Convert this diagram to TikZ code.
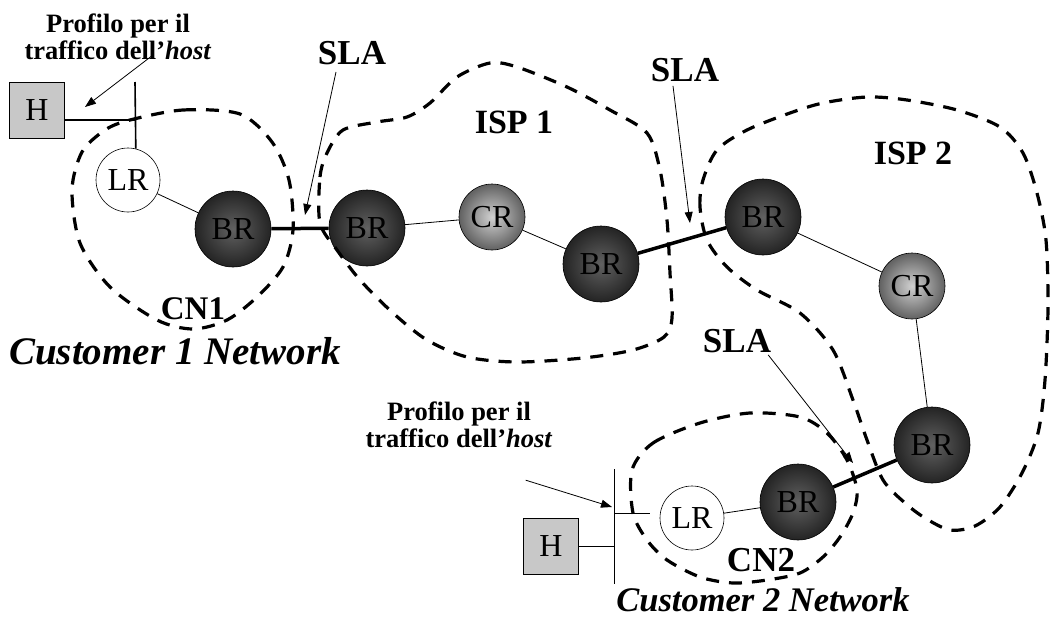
\documentclass[tikz,border=0pt]{standalone}
\usepackage{fontspec}
\setmainfont{Liberation Serif}
\usepackage{tikz}
\usetikzlibrary{arrows.meta}
\definecolor{hostgray}{HTML}{C8C8C8}
\tikzset{
  rtr/.style={circle, draw=black, line width=0.6pt, inner sep=0pt, font=\fontsize{32}{32}\selectfont},
  br/.style={rtr, minimum size=76pt, shading=radial, inner color=black!62, outer color=black!86},
  cr/.style={rtr, minimum size=66pt, shading=radial, inner color=black!18, outer color=black!62},
  lr/.style={rtr, minimum size=64pt, fill=white},
  host/.style={draw=black, line width=0.6pt, fill=hostgray, minimum width=55pt, minimum height=56pt, inner sep=0pt, font=\fontsize{32}{32}\selectfont},
  zone/.style={line width=3.2pt, dash pattern=on 13pt off 10pt},
  link/.style={line width=0.8pt},
  slalink/.style={line width=3.5pt},
  ptr/.style={line width=0.8pt, -{Triangle[length=11pt, width=8pt]}},
  lab/.style={inner sep=0pt, font=\bfseries\fontsize{35}{35}\selectfont},
  netlab/.style={inner sep=0pt, font=\bfseries\itshape\fontsize{39}{39}\selectfont},
  prof/.style={inner sep=0pt, align=center, font=\bfseries\fontsize{26.5}{27}\selectfont},
}

\begin{document}
\begin{tikzpicture}[x=1pt, y=-1pt]
  \useasboundingbox (0,0) rectangle (1050,619);

  % routers
  \node[host] (H1)  at (37,110)  {H};
  \node[lr]   (LR1) at (128,180) {LR};
  \node[br]   (BR1) at (233,229) {BR};
  \node[br]   (BR2) at (367,228) {BR};
  \node[cr]   (CR1) at (492,217) {CR};
  \node[br]   (BR3) at (601,264) {BR};
  \node[br]   (BR4) at (763,217) {BR};
  \node[cr]   (CR2) at (912,286) {CR};
  \node[br]   (BR5) at (932,445) {BR};
  \node[br]   (BR6) at (798,502) {BR};
  \node[lr]   (LR2) at (692,518) {LR};
  \node[host] (H2)  at (551,546) {H};

  % links
  \draw[link] (LR1) -- (BR1);
  \draw[slalink] (BR1) -- (BR2);
  \draw[link] (BR2) -- (CR1);
  \draw[link] (CR1) -- (BR3);
  \draw[slalink] (BR3) -- (BR4);
  \draw[link] (BR4) -- (CR2);
  \draw[link] (CR2) -- (BR5);
  \draw[slalink] (BR6) -- (BR5);
  \draw[link] (LR2) -- (BR6);

  % host access, top
  \coordinate (bar1) at (135,82);
  \draw[line width=1.6pt] (bar1) -- (LR1.76);
  \draw[line width=1.6pt] (H1.east |- 0,120) -- (bar1 |- 0,120);

  % host access, bottom
  \coordinate (bar2a) at (614,469);
  \coordinate (bar2b) at (614,584);
  \draw[link] (bar2a) -- (bar2b);
  \draw[link] (H2.east) -- (H2.east -| bar2a);
  \draw[link] (bar2a |- LR2.172) -- ([xshift=-10pt]LR2.172);

  % domains
  \draw[zone] plot[smooth cycle] coordinates {(130,120) (183,110) (240,114) (272,142) (289,180) (293,230) (283,267) (257,297) (227,320) (193,329) (157,320) (110,287) (80,243) (72,190) (82,152) (105,130)};
  \draw[zone] plot[smooth cycle] coordinates {(320,223) (320,177) (327,153) (343,130) (377,122) (407,117) (430,103) (457,77) (490,63) (517,67) (567,87) (610,110) (647,133) (660,170) (667,220) (670,273) (672,318) (664,337) (633,350) (583,358) (517,362) (467,357) (427,340) (393,313) (360,280) (337,250)};
  \draw[zone] plot[smooth cycle] coordinates {(707,240) (700,207) (703,180) (717,150) (747,130) (790,113) (823,103) (867,97) (907,100) (957,110) (1000,127) (1023,153) (1037,193) (1046,240) (1048,307) (1045,380) (1038,433) (1022,473) (1000,507) (975,526) (950,530) (925,518) (905,503) (883,480) (867,440) (853,400) (833,350) (800,313) (757,290) (727,267)};
  \draw[zone] plot[smooth cycle] coordinates {(632,470) (653,443) (700,423) (750,413) (800,417) (827,433) (847,460) (857,490) (853,513) (840,537) (823,557) (800,573) (767,580) (733,583) (700,577) (667,560) (647,540) (633,513)};

  % labels
  \node[lab] (sla1) at (352,53)  {SLA};
  \node[lab] (sla2) at (685,70)  {SLA};
  \node[lab] (sla3) at (737,341) {SLA};
  \node[lab, font=\bfseries\fontsize{34}{34}\selectfont] (isp1) at (514,122) {ISP 1};
  \node[lab, font=\bfseries\fontsize{34}{34}\selectfont] (isp2) at (913,153) {ISP 2};
  \node[lab, font=\bfseries\fontsize{33}{33}\selectfont] (cn1) at (193,309) {CN1};
  \node[lab, font=\bfseries\fontsize{35}{35}\selectfont] (cn2) at (761,560) {CN2};
  \node[netlab] (cust1) at (175,351) {Customer 1 Network};
  \node[netlab, font=\bfseries\itshape\fontsize{34.5}{34.5}\selectfont] (cust2) at (763,600) {Customer 2 Network};
  \node[prof] (prof1) at (118,37) {Profilo per il\\traffico dell'\textit{host}};
  \node[prof] (prof2) at (459,425) {Profilo per il\\traffico dell'\textit{host}};

  % pointers
  \coordinate (tip1) at (305,215);
  \coordinate (tip2) at (690,223);
  \coordinate (tip3) at (853,463);
  \coordinate (tip4) at (85,107);
  \coordinate (tip5) at (612,507);
  \draw[ptr] ([xshift=-16pt, yshift=-7pt]sla1.south) -- (tip1);
  \draw[ptr] ([xshift=-12pt, yshift=-4pt]sla2.south) -- (tip2);
  \draw[ptr] ([xshift=-3pt, yshift=-2pt]sla3.south east) -- (tip3);
  \draw[ptr] ([shift={(35,18)}]prof1.center) -- (tip4);
  \draw[ptr] ([shift={(-27,32)}]prof2.south east) -- (tip5);
\end{tikzpicture}
\end{document}
